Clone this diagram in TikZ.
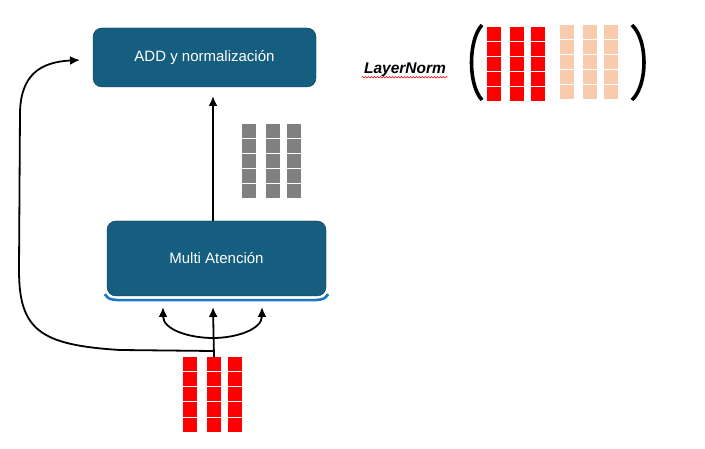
\documentclass[tikz,border=0pt]{standalone}
\usepackage{fontspec}
\setmainfont{Liberation Sans}
\usepackage{xcolor}
\usepackage{tikz}
\usetikzlibrary{positioning}
\usetikzlibrary{arrows.meta}
\usetikzlibrary{decorations.pathmorphing}
\definecolor{boxblue}{RGB}{21,94,127}
\definecolor{boxline}{RGB}{14,52,72}
\definecolor{lineblue}{RGB}{30,118,200}
\definecolor{peach}{RGB}{248,203,173}
\tikzset{edge/.style = {->,> = {Latex[length=10pt,width=9pt]}, line width=1.8pt}}

\begin{document}
\begin{tikzpicture}[x=1pt,y=-1pt,
    block/.style={rectangle,rounded corners=9pt,draw=boxline,fill=boxblue,text=white,font=\fontsize{15}{18}\selectfont},
    cell/.style={rectangle,inner sep=0pt,minimum width=14pt,minimum height=14pt},
    redcell/.style={cell,fill=red},
    graycell/.style={cell,fill=gray},
    peachcell/.style={cell,fill=peach}]
                \useasboundingbox (0,0) rectangle (705,449);
                \fill[white] (0,0) rectangle (705,449);

                \node[block,minimum width=223pt,minimum height=59pt] (add) at (204.5,57.5) {ADD y normalización};
                \node[block,minimum width=219pt,minimum height=75pt] (multi) at (216.5,258.5) {Multi Atención};

                \draw[lineblue,line width=2.6pt] ([xshift=-2pt,yshift=2pt]multi.south west) .. controls ([xshift=2pt,yshift=-3pt]multi.south west) .. ([xshift=12pt,yshift=-4pt]multi.south west)
                    -- ([xshift=-12pt,yshift=-4pt]multi.south east) .. controls ([xshift=-2pt,yshift=-3pt]multi.south east) .. ([xshift=2pt,yshift=2pt]multi.south east);

                \foreach \c/\x in {1/249,2/272.5,3/293.5}
                    \foreach \r in {1,...,5}
                        \node[graycell] (out-\c-\r) at (\x,{116.5+15*\r}) {};
                \foreach \c/\x in {1/190,2/214,3/235}
                    \foreach \r in {1,...,5}
                        \node[redcell] (in-\c-\r) at (\x,{349.5+15*\r}) {};
                \foreach \c/\x in {1/494,2/517,3/538}
                    \foreach \r in {1,...,5}
                        \node[redcell] (ln-\c-\r) at (\x,{19.5+15*\r}) {};
                \foreach \c/\x in {1/566.5,2/590,3/611}
                    \foreach \r in {1,...,5}
                        \node[peachcell] (lp-\c-\r) at (\x,{17.5+15*\r}) {};

                \node[font=\fontsize{15.5}{18}\selectfont\bfseries\itshape] (norm) at (405,70) {LayerNorm};
                \draw[red,line width=0.5pt,decorate,decoration={snake,amplitude=0.8pt,segment length=3pt}] ([xshift=1pt,yshift=-3.5pt]norm.base west) -- ([xshift=-2pt,yshift=-3.5pt]norm.base east);

                \coordinate (lpo) at (482,25);
                \coordinate (lpu) at (482,100);
                \coordinate (rpo) at (632,25);
                \coordinate (rpu) at (632,100);
                \draw[line width=3.6pt] (lpo) .. controls (468,40) and (468,85) .. (lpu);
                \draw[line width=3.6pt] (rpo) .. controls (648,40) and (648,85) .. (rpu);

                \coordinate (addin) at (80,60);
                \coordinate (addout) at (213,96);
                \coordinate (multiout) at (213,221);
                \coordinate (split) at (213,338);
                \coordinate (tap) at (213,351);
                \coordinate (inL) at (163,307);
                \coordinate (inM) at (213,307);
                \coordinate (inR) at (262,307);

                \path[edge] (multiout) edge (addout);
                \path[edge] (in-2-1.north) edge (inM);
                \path[edge] (split) edge[out=180,in=-90] (inL);
                \path[edge] (split) edge[out=0,in=-90] (inR);
                \draw[edge] (tap) -- (120,350) .. controls (40,345) and (19,330) .. (19,270) -- (20,112) .. controls (21,75) and (40,62) .. (addin);
            \end{tikzpicture}
\end{document}
